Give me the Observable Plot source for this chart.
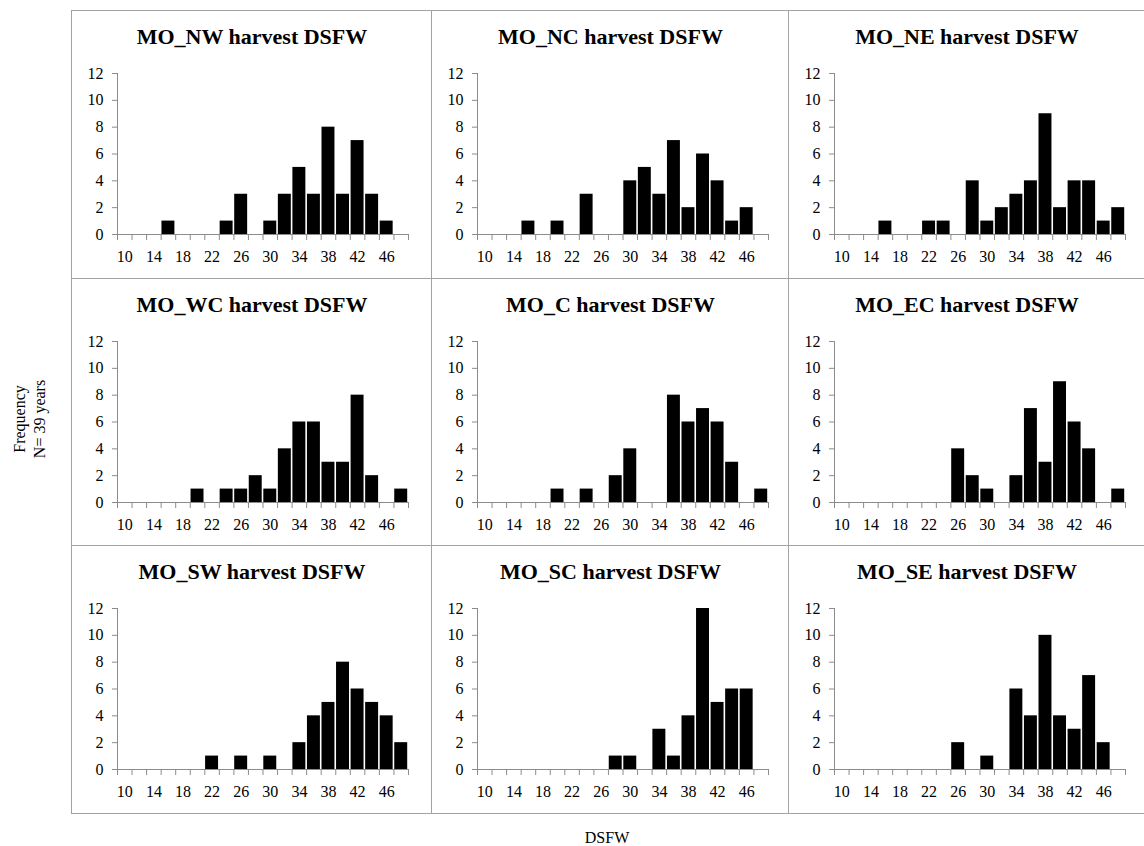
<!DOCTYPE html>
<html>
<head>
<meta charset="utf-8">
<script src="https://cdn.jsdelivr.net/npm/d3@7"></script>
<script src="https://cdn.jsdelivr.net/npm/@observablehq/plot@0.6"></script>
<style>
  html, body { margin: 0; padding: 0; background: #fff; }
  body { width: 1144px; height: 846px; overflow: hidden; position: relative;
         font-family: "Liberation Serif", "Times New Roman", serif; color: #000; }
  .panel { position: absolute; box-sizing: border-box; border: 1px solid #a3a3a3; }
  .panel svg { position: absolute; left: -1px; top: -1px; max-width: none; }
  .panel svg text { font-family: "Liberation Serif", "Times New Roman", serif !important; }
  .ytitle { position: absolute; left: 30px; top: 419px; transform: translate(-50%, -50%) rotate(-90deg);
            font-size: 16px; line-height: 20px; text-align: center; white-space: nowrap; }
  .xtitle { position: absolute; left: 607px; top: 830px; transform: translateX(-50%);
            font-size: 16px; line-height: 16px; white-space: nowrap; }
</style>
</head>
<body>
<div class="ytitle">Frequency<br>N= 39 years</div>
<div class="xtitle">DSFW</div>
<script>
// DSFW categories (bin centres) and axis labels
const bins = [10, 12, 14, 16, 18, 20, 22, 24, 26, 28, 30, 32, 34, 36, 38, 40, 42, 44, 46, 48];
const binEdges = [9, 11, 13, 15, 17, 19, 21, 23, 25, 27, 29, 31, 33, 35, 37, 39, 41, 43, 45, 47, 49];
const xTickLabels = [10, 14, 18, 22, 26, 30, 34, 38, 42, 46];
const yTicks = [0, 2, 4, 6, 8, 10, 12];

const regions = ["MO_NW", "MO_NC", "MO_NE", "MO_WC", "MO_C", "MO_EC", "MO_SW", "MO_SC", "MO_SE"];

// Frequency per bin (N = 39 years)
const countsNW = [0,0,0,1,0,0,0,1,3,0,1,3,5,3,8,3,7,3,1,0];
const countsNC = [0,0,0,1,0,1,0,3,0,0,4,5,3,7,2,6,4,1,2,0];
const countsNE = [0,0,0,1,0,0,1,1,0,4,1,2,3,4,9,2,4,4,1,2];
const countsWC = [0,0,0,0,0,1,0,1,1,2,1,4,6,6,3,3,8,2,0,1];
const countsC  = [0,0,0,0,0,1,0,1,0,2,4,0,0,8,6,7,6,3,0,1];
const countsEC = [0,0,0,0,0,0,0,0,4,2,1,0,2,7,3,9,6,4,0,1];
const countsSW = [0,0,0,0,0,0,1,0,1,0,1,0,2,4,5,8,6,5,4,2];
const countsSC = [0,0,0,0,0,0,0,0,0,1,1,0,3,1,4,12,5,6,6,0];
const countsSE = [0,0,0,0,0,0,0,0,2,0,1,0,6,4,10,4,3,7,2,0];

const seriesList = [countsNW, countsNC, countsNE, countsWC, countsC, countsEC, countsSW, countsSC, countsSE];

// layout of the 3x3 grid
const colLeft = [71, 431, 788];
const colWidth = [360, 357, 356];
const rowTop = [10, 278, 545];
const rowHeight = [268, 267, 268];

const axisGrey = "#8c8c8c";
const serif = '"Liberation Serif", "Times New Roman", serif';
const mLeft = 46, plotW = 291, mTop = 63, plotH = 161;

regions.forEach((name, k) => {
  const r = Math.floor(k / 3), c = k % 3;
  const w = colWidth[c], h = rowHeight[r];
  const data = bins.map((b, i) => ({bin: b, count: seriesList[k][i]}));
  const titleShift = (w + 1) / 2 - (mLeft + plotW / 2);
  const chart = Plot.plot({
    width: w + 1,
    height: h + 1,
    marginLeft: mLeft,
    marginRight: w + 1 - mLeft - plotW,
    marginTop: mTop,
    marginBottom: h + 1 - mTop - plotH,
    style: {fontFamily: serif, fontSize: "16px", background: "transparent", color: "black"},
    x: {domain: [9, 49]},
    y: {domain: [0, 12]},
    marks: [
      Plot.rectY(data, {x1: d => d.bin - 1, x2: d => d.bin + 1, y: "count", fill: "black", insetLeft: 0.8, insetRight: 0.8}),
      Plot.ruleY([0], {stroke: axisGrey}),
      Plot.ruleX([9], {stroke: axisGrey}),
      Plot.axisY({ticks: yTicks, tickSize: 5, tickPadding: 9, stroke: axisGrey, fill: "black", fontSize: 16, fontFamily: serif, label: null}),
      Plot.axisX({ticks: binEdges, tickFormat: () => "", tickSize: 6, stroke: axisGrey, label: null}),
      Plot.axisX({ticks: xTickLabels, tickSize: 0, tickPadding: 16, fill: "black", fontSize: 16, fontFamily: serif, label: null}),
      Plot.text([name + " harvest DSFW"], {frameAnchor: "top", lineAnchor: "bottom", dy: -30, dx: titleShift, fontSize: 22, fontWeight: "bold", fontFamily: serif, fill: "black"})
    ]
  });
  const div = document.createElement("div");
  div.className = "panel";
  div.style.left = colLeft[c] + "px";
  div.style.top = rowTop[r] + "px";
  div.style.width = (w + 1) + "px";
  div.style.height = (h + 1) + "px";
  div.appendChild(chart);
  document.body.appendChild(div);
});
</script>
</body>
</html>
